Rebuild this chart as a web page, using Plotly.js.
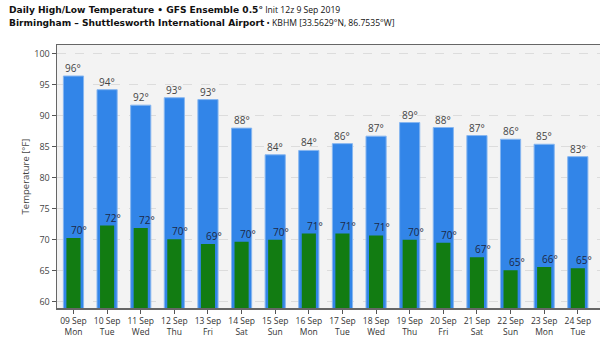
<!DOCTYPE html>
<html>
<head>
<meta charset="utf-8">
<script src="https://cdn.plot.ly/plotly-3.0.1.min.js"></script>
<style>
html,body{margin:0;padding:0;overflow:hidden;background:#fff;}
#chart{width:600px;height:339px;}
</style>
</head>
<body>
<div id="chart"></div>
<script>
const dates = ["09 Sep","10 Sep","11 Sep","12 Sep","13 Sep","14 Sep","15 Sep","16 Sep","17 Sep","18 Sep","19 Sep","20 Sep","21 Sep","22 Sep","23 Sep","24 Sep"];
const weekdays = ["Mon","Tue","Wed","Thu","Fri","Sat","Sun","Mon","Tue","Wed","Thu","Fri","Sat","Sun","Mon","Tue"];
const highs = [96.4,94.2,91.7,92.9,92.6,88.0,83.7,84.4,85.5,86.7,88.9,88.1,86.8,86.2,85.4,83.4];
const lows = [70.3,72.3,71.9,70.1,69.3,69.7,70.0,71.0,71.0,70.7,70.0,69.5,67.2,65.1,65.6,65.4];
const yTicks = [60,65,70,75,80,85,90,95,100];

const cats = dates.map((d,i)=>d+"<br>"+weekdays[i]);
const fmt = v => Math.round(v) + "°";

const traces = [
  {type:"bar", x:cats, y:highs, width:0.6, marker:{color:"#3285e8", line:{color:"#86b6f0", width:1}}, hoverinfo:"skip"},
  {type:"bar", x:cats, y:lows, width:0.42, marker:{color:"#127c12", line:{width:0}}, hoverinfo:"skip"}
];

const highLabels = cats.map((c,i)=>({
  x:c, y:highs[i], xref:"x", yref:"y", xanchor:"center", yanchor:"bottom", showarrow:false,
  text:fmt(highs[i]), font:{family:"Open Sans", size:10, color:"#444"}, borderpad:0, yshift:0
}));
const lowLabels = cats.map((c,i)=>({
  x:c, y:lows[i], xref:"x", yref:"y", xanchor:"left", yanchor:"bottom", showarrow:false,
  text:fmt(lows[i]), font:{family:"Open Sans", size:10, color:"#1c2846"}, borderpad:0, xshift:-3
}));

const layout = {
  width:600, height:339,
  margin:{l:57, r:0, t:45, b:31, pad:0},
  paper_bgcolor:"#ffffff", plot_bgcolor:"#f3f3f3",
  barmode:"overlay", showlegend:false,
  font:{family:"Open Sans", color:"#444"},
  xaxis:{
    type:"category", range:[-0.49, 15.66],
    showgrid:false, showline:true, linecolor:"#666", linewidth:1.5, mirror:true,
    ticks:"outside", ticklen:4, tickcolor:"#555",
    tickfont:{family:"Open Sans", size:8.5, color:"#333"}, fixedrange:true
  },
  yaxis:{
    range:[59.0, 101.4], tickvals:yTicks, ticktext:yTicks.map(String),
    showgrid:true, gridcolor:"#dcdcdc", griddash:"dash", gridwidth:1,
    showline:true, linecolor:"#666", linewidth:1.5, zeroline:false,
    ticks:"outside", ticklen:4, tickcolor:"#555",
    tickfont:{family:"Open Sans", size:9, color:"#444"},
    title:{text:"Temperature [°F]", font:{family:"Open Sans", size:9.5, color:"#444"}, standoff:3}
  },
  annotations:[
    {xref:"paper", yref:"paper", x:-0.092, y:1.134, xanchor:"left", yanchor:"middle", showarrow:false,
     text:"<b>Daily High/Low Temperature • GFS Ensemble 0.5°</b><span style='font-family:Open Sans;font-weight:normal;font-size:8.6px'> Init 12z 9 Sep 2019</span>",
     font:{family:"DejaVu Sans", size:9.1, color:"#111"}},
    {xref:"paper", yref:"paper", x:-0.092, y:1.084, xanchor:"left", yanchor:"middle", showarrow:false,
     text:"<b>Birmingham – Shuttlesworth International Airport</b><span style='font-family:Open Sans;font-weight:normal;font-size:8.6px'> • KBHM [33.5629°N, 86.7535°W]</span>",
     font:{family:"DejaVu Sans", size:9.1, color:"#111"}}
  ].concat(highLabels, lowLabels)
};

Plotly.newPlot("chart", traces, layout, {displayModeBar:false, staticPlot:true});
</script>
</body>
</html>
